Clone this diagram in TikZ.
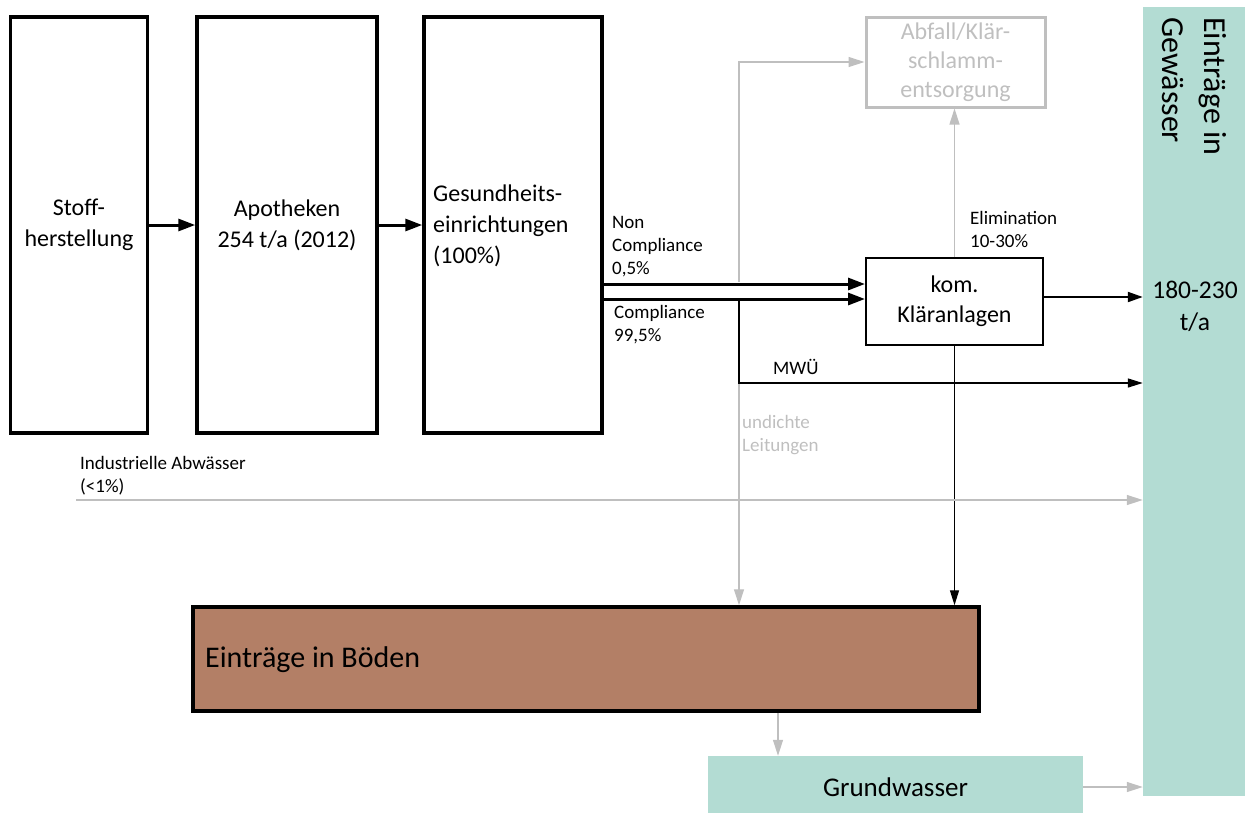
\documentclass[tikz,border=0pt]{standalone}
\usepackage{fontspec}
\setmainfont{Carlito}
\usetikzlibrary{arrows.meta}
\definecolor{gwcol}{HTML}{B3DCD3}
\definecolor{bodencol}{HTML}{B37F66}
\definecolor{graycol}{HTML}{BFBFBF}
\tikzset{
  bigbox/.style={draw, line width=3.5pt, inner sep=0pt, align=center, bigfont},
  bigfont/.style={font=\fontsize{24}{31}\selectfont},
  smallfont/.style={font=\fontsize{19}{23}\selectfont},
  thickarr/.style={-{Triangle[length=17pt,width=12pt]}, line width=3pt},
  medarr/.style={-{Triangle[length=15pt,width=10pt]}, line width=2pt},
  thinarr/.style={-{Triangle[length=15pt,width=9pt]}, line width=1.4pt},
  grayarr/.style={-{Triangle[length=16pt,width=10pt]}, line width=1.2pt, draw=graycol},
  lbl/.style={inner sep=0pt, anchor=west, align=left}
}
\begin{document}
\begin{tikzpicture}[x=1pt,y=-1pt]
\useasboundingbox (0,0) rectangle (1245,812);
% boxes
\node[bigbox, minimum width=137pt, minimum height=416pt] (stoff) at (79,225) {Stoff-\\herstellung};
\node[bigbox, minimum width=180pt, minimum height=416pt] (apo) at (287,225) {Apotheken\\254 t/a (2012)};
\node[bigbox, minimum width=178pt, minimum height=416pt] (ges) at (513,225) {};
\node[lbl, bigfont] (gestext) at (433,226) {Gesundheits-\\einrichtungen\\(100\%)};
\node[bigbox, draw=graycol, line width=3pt, text=graycol, minimum width=179pt, minimum height=90pt, font=\fontsize{24}{29}\selectfont] (abfall) at (955.5,62) {Abfall/Klär-\\schlamm-\\entsorgung};
\node[bigbox, line width=2pt, minimum width=177pt, minimum height=87pt, font=\fontsize{24}{30}\selectfont] (klaer) at (954.5,301.5) {kom.\\Kläranlagen};
\node[fill=gwcol, inner sep=0pt, minimum width=102pt, minimum height=789pt] (gew) at (1194,401.5) {};
\node[inner sep=0pt, rotate=-90, anchor=north west, align=left, font=\fontsize{32}{42}\selectfont] (gewtext) at (1227,17) {Einträge in\\Gewässer};
\node[align=center, font=\fontsize{25.5}{32}\selectfont, inner sep=0pt] (tatext) at (1195,306) {180-230\\t/a};
\node[draw, line width=3.5pt, fill=bodencol, inner sep=0pt, minimum width=786pt, minimum height=104pt] (boden) at (586,659) {};
\node[lbl, font=\fontsize{30}{36}\selectfont] (bodentext) at (205,660) {Einträge in Böden};
\node[fill=gwcol, inner sep=0pt, minimum width=375pt, minimum height=64pt] (gw) at (895.5,788) {};
\node[font=\fontsize{27}{32}\selectfont, inner sep=0pt] (gwtext) at (895.5,787) {Grundwasser};
% coordinates
\coordinate (ync) at (0,284);
\coordinate (yc) at (0,299);
\coordinate (yk) at (0,297);
\coordinate (gtop) at (739,282);
\coordinate (mtop) at (739,301);
\coordinate (mwu) at (739,383);
\coordinate (ind) at (76,500);
\coordinate (xgw) at (778,0);
\coordinate (ygw) at (0,787);
% connectors
\draw[thickarr] (stoff) -- (apo);
\draw[thickarr] (apo) -- (ges);
\draw[grayarr] (gtop) |- (abfall.west);
\draw[grayarr] (mwu) -- (mwu |- boden.north);
\draw[grayarr] (klaer.north) -- (klaer.north |- abfall.south);
\draw[thickarr] (ges.east |- ync) -- (klaer.west |- ync);
\draw[thickarr] (ges.east |- yc) -- (klaer.west |- yc);
\draw[medarr] (klaer.east |- yk) -- (gew.west |- yk);
\draw[thinarr] (mtop) |- (gew.west |- mwu);
\draw[thinarr] (klaer.south) -- (klaer.south |- boden.north);
\draw[grayarr] (ind) -- (ind -| gew.west);
\draw[grayarr] (boden.south -| xgw) -- (gw.north -| xgw);
\draw[grayarr] (gw.east |- ygw) -- (gew.west |- ygw);
% labels
\node[lbl, smallfont] (nclbl) at (612,246.5) {Non\\Compliance\\0,5\%};
\node[lbl, smallfont] (clbl) at (614,324.5) {Compliance\\99,5\%};
\node[lbl, smallfont] (mwulbl) at (773,367) {MWÜ};
\node[lbl, smallfont] (elimlbl) at (970,229.5) {Elimination\\10-30\%};
\node[lbl, smallfont, text=graycol] (undlbl) at (742,435) {undichte\\Leitungen};
\node[lbl, smallfont] (indlbl) at (80,475.5) {Industrielle Abwässer\\(<1\%)};
\end{tikzpicture}
\end{document}
